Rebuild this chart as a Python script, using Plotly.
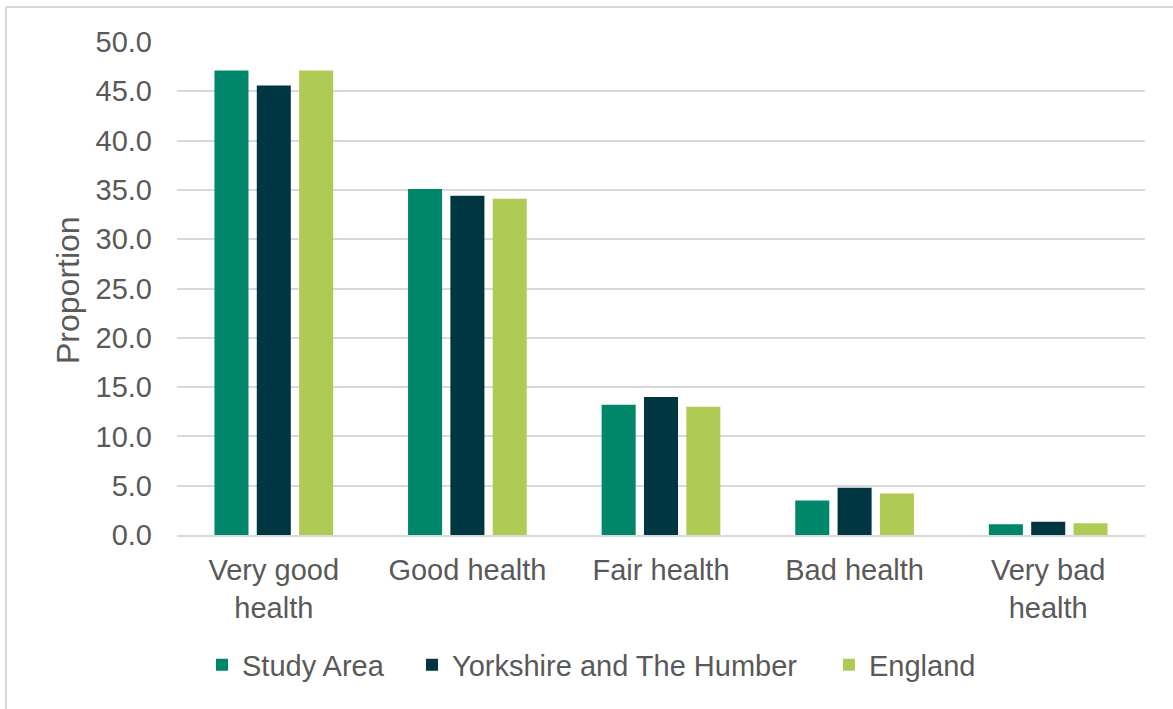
import plotly.graph_objects as go

categories = ["Very good<br>health", "Good health", "Fair health", "Bad health", "Very bad<br>health"]
study_area = [47.1, 35.1, 13.2, 3.5, 1.1]
yorkshire = [45.6, 34.4, 14.0, 4.8, 1.35]
england = [47.1, 34.1, 13.0, 4.2, 1.2]
series_names = ["Study Area", "Yorkshire and The Humber", "England"]
colors = ["#00876A", "#003641", "#B0CB55"]
y_ticks = [0, 5, 10, 15, 20, 25, 30, 35, 40, 45, 50]

W, H = 1173, 709
L, R, T, B = 177, 1145, 42, 535
FONT = "Liberation Sans, Arial, sans-serif"
TXT = "#595959"

fig = go.Figure()
legend_ids = ["legend", "legend2", "legend3"]
legend_x = [202, 412, 829]
for name, vals, col, lg in zip(series_names, [study_area, yorkshire, england], colors, legend_ids):
    fig.add_trace(go.Bar(x=categories, y=vals, name=name, marker_color=col,
                         marker_line_width=0, legend=lg))

leg_common = dict(orientation="h", xref="container", yref="container",
                  yanchor="middle", xanchor="left", y=1 - 665 / H,
                  font=dict(family=FONT, size=29, color=TXT),
                  bgcolor="rgba(0,0,0,0)")
layout_legends = {}
for lg, lx in zip(legend_ids, legend_x):
    layout_legends[lg] = dict(leg_common, x=lx / W)

fig.update_layout(
    width=W, height=H,
    margin=dict(l=L, r=W - R, t=T, b=H - B, pad=0),
    paper_bgcolor="white", plot_bgcolor="white",
    barmode="group", bargap=0.344, bargroupgap=0.196,
    font=dict(family=FONT, size=29, color=TXT),
    showlegend=True,
    **layout_legends,
    xaxis=dict(showgrid=False, showline=True, linecolor="#D9D9D9", linewidth=2,
               ticks="", tickfont=dict(family=FONT, size=29, color=TXT),
               ticklabelstandoff=8),
    yaxis=dict(range=[0, 50], tickvals=y_ticks, tickformat=".1f",
               showgrid=True, gridcolor="#D9D9D9", gridwidth=2,
               zeroline=False, showline=False, ticks="",
               tickfont=dict(family=FONT, size=29, color=TXT),
               ticklabelstandoff=24),
    shapes=[
        dict(type="line", xref="paper", yref="paper",
             x0=(6 - L) / (R - L), x1=(W - L) / (R - L),
             y0=(H - 7 - (H - B)) / (B - T), y1=(H - 7 - (H - B)) / (B - T),
             line=dict(color="#D9D9D9", width=2)),
        dict(type="line", xref="paper", yref="paper",
             x0=(6 - L) / (R - L), x1=(6 - L) / (R - L),
             y0=(H - 7 - (H - B)) / (B - T), y1=-(H - B) / (B - T),
             line=dict(color="#D9D9D9", width=2)),
    ],
    annotations=[
        dict(text="Proportion", xref="paper", yref="paper",
             x=(68 - L) / (R - L), y=(B - 290) / (B - T),
             textangle=-90, showarrow=False, xanchor="center", yanchor="middle",
             font=dict(family=FONT, size=32, color=TXT)),
    ],
)

fig.write_html("out.html")
